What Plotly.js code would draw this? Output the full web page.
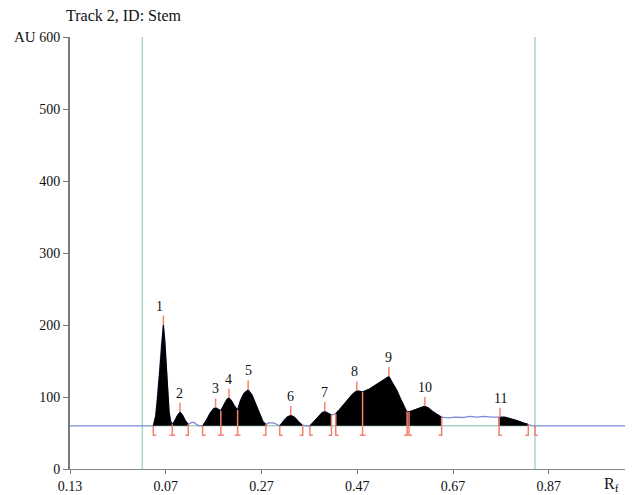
<!DOCTYPE html>
<html>
<head>
<meta charset="utf-8">
<script src="https://cdn.plot.ly/plotly-3.0.1.min.js"></script>
<style>html,body{margin:0;padding:0;background:#fff;}#chart{width:642px;height:495px;}</style>
</head>
<body>
<div id="chart"></div>
<script>
// Densitogram trace (Rf, AU)
const curveRf = [-0.13, 0.044, 0.049, 0.053, 0.057, 0.061, 0.065, 0.068, 0.071, 0.074, 0.077, 0.080, 0.0836,
  0.088, 0.094, 0.0997, 0.105, 0.111, 0.117, 0.122, 0.128, 0.134, 0.140, 0.147,
  0.155, 0.163, 0.170, 0.174, 0.180, 0.185, 0.192, 0.198, 0.202, 0.207, 0.213, 0.220, 0.226, 0.233, 0.242, 0.250, 0.258, 0.266, 0.273, 0.279,
  0.285, 0.295, 0.303, 0.308, 0.316, 0.323, 0.331, 0.339, 0.347, 0.356, 0.363, 0.371,
  0.380, 0.390, 0.396, 0.402, 0.409, 0.416, 0.421, 0.425,
  0.432, 0.440, 0.450, 0.460, 0.469, 0.481, 0.495, 0.510, 0.522, 0.530, 0.536, 0.543, 0.552, 0.560, 0.567, 0.573, 0.578,
  0.585, 0.595, 0.605, 0.611, 0.618, 0.627, 0.636, 0.646,
  0.660, 0.675, 0.690, 0.705, 0.720, 0.735, 0.750, 0.766,
  0.778, 0.790, 0.805, 0.817, 0.827, 0.835, 1.03];
const curveAU = [60, 60, 74, 100, 136, 174, 200, 178, 138, 102, 79, 67, 62,
  66, 74, 79, 75, 67, 62, 64, 65, 62, 60, 60,
  68, 78, 84, 85, 83, 81, 90, 97, 98.6, 95, 88, 82, 95, 105, 110, 103, 90, 76, 66, 62,
  64, 64, 62, 60, 67, 72, 74.5, 72, 66, 61, 60, 60,
  66, 74, 78, 80, 77, 75, 76, 77,
  82, 88, 97, 104, 108.7, 107, 111, 117, 122, 126, 128.6, 120, 110, 98, 88, 80, 79.5,
  81, 84, 86, 87, 85, 80, 76, 72,
  71, 72, 71.5, 73, 72, 73, 72, 72,
  72, 70, 67, 64, 62, 60, 60];

// Integrated peak regions
const regionStart = [0.044, 0.0836, 0.147, 0.308, 0.371, 0.425, 0.578, 0.766];
const regionEnd   = [0.0836, 0.117, 0.279, 0.356, 0.416, 0.578, 0.646, 0.827];

// Peaks
const peakLabels = ["1","2","3","4","5","6","7","8","9","10","11"];
const peakRf = [0.065, 0.0997, 0.174, 0.202, 0.242, 0.331, 0.402, 0.469, 0.536, 0.611, 0.768];
const peakAU = [200, 79, 85, 98.6, 110, 74.5, 80, 108.7, 128.6, 87, 72];

// Integration boundaries: L = "[", R = "]", B = shared
const boundRf   = [0.044, 0.0836, 0.117, 0.147, 0.185, 0.220, 0.279, 0.308, 0.356, 0.371, 0.416, 0.425, 0.481, 0.574, 0.578, 0.646, 0.766, 0.827, 0.841];
const boundType = ["L", "B", "R", "L", "B", "B", "R", "L", "R", "L", "R", "L", "B", "R", "L", "R", "L", "R", "L"];

const baselineAU = 60;
const frontLines = [0.021, 0.841];
const xTickVals = [-0.13, 0.07, 0.27, 0.47, 0.67, 0.87];
const xTickText = ["0.13", "0.07", "0.27", "0.47", "0.67", "0.87"];
const yTickVals = [0, 100, 200, 300, 400, 500, 600];

function interp(x) {
  for (let i = 0; i < curveRf.length - 1; i++) {
    if (x >= curveRf[i] && x <= curveRf[i + 1]) {
      const t = (x - curveRf[i]) / (curveRf[i + 1] - curveRf[i]);
      return curveAU[i] + t * (curveAU[i + 1] - curveAU[i]);
    }
  }
  return baselineAU;
}

const RED = "#f3826c";
const traces = [];

traces.push({x: [regionStart[0], regionEnd[regionEnd.length - 1]], y: [baselineAU, baselineAU], mode: "lines",
  line: {color: "#a6d2c8", width: 1.5}, hoverinfo: "skip"});
traces.push({x: curveRf, y: curveAU, mode: "lines", line: {color: "#7a8ad6", width: 1.3}, hoverinfo: "skip"});
regionStart.forEach((s, k) => {
  const e = regionEnd[k];
  const xs = [s, s], ys = [baselineAU, interp(s)];
  curveRf.forEach((r, i) => { if (r > s && r < e) { xs.push(r); ys.push(curveAU[i]); } });
  xs.push(e, e); ys.push(interp(e), baselineAU);
  traces.push({x: xs, y: ys, mode: "lines", fill: "toself", fillcolor: "#000", line: {color: "#000", width: 1}, hoverinfo: "skip"});
});
const bx = [], by = [];
const foot = 0.006, bottom = 47;
boundRf.forEach((r, i) => {
  const top = interp(r);
  const t = boundType[i];
  if (t === "L") { bx.push(r, r, r + foot, null); by.push(top, bottom, bottom, null); }
  else if (t === "R") { bx.push(r, r, r - foot, null); by.push(top, bottom, bottom, null); }
  else { bx.push(r, r, null, r - foot, r + foot, null); by.push(top, bottom, null, bottom, bottom, null); }
});
traces.push({x: bx, y: by, mode: "lines", line: {color: RED, width: 1.5}, hoverinfo: "skip", connectgaps: false});
const px = [], py = [];
peakRf.forEach((r, i) => { px.push(r, r, null); py.push(peakAU[i], peakAU[i] + 13, null); });
traces.push({x: px, y: py, mode: "lines", line: {color: RED, width: 1.5}, hoverinfo: "skip", connectgaps: false});

const font = {family: "Liberation Serif", size: 14, color: "#111"};
const titleFont = {family: "Liberation Serif", size: 16, color: "#111"};

const annotations = peakLabels.map((lab, i) => ({
  x: peakRf[i], y: peakAU[i] + 13, xref: "x", yref: "y", text: lab, showarrow: false,
  yanchor: "bottom", xshift: i === 0 ? -4 : (i === 7 ? -2 : 0), font: font
}));
annotations.push({x: -58/555, y: 1, xref: "paper", yref: "paper", text: "AU", showarrow: false, xanchor: "left", yanchor: "middle", font: {family: "Liberation Serif", size: 15, color: "#111"}});
annotations.push({x: 1.0, y: 0, xref: "x", yref: "y", text: "R<sub>f</sub>", showarrow: false, yshift: -15, font: titleFont});

const shapes = frontLines.map(r => ({type: "line", xref: "x", yref: "y", x0: r, x1: r, y0: 0, y1: 600,
  line: {color: "#a9d3d3", width: 1.5}, layer: "below"}));

const layout = {
  width: 642, height: 495,
  margin: {l: 70, r: 17, t: 37, b: 26},
  paper_bgcolor: "#fff", plot_bgcolor: "#fff",
  showlegend: false,
  font: font,
  title: {text: "Track 2, ID: Stem", xref: "container", yref: "container", x: 66/642, xanchor: "left", y: 1 - 15/495, yanchor: "middle", font: titleFont},
  xaxis: {range: [-0.13, 1.029], tickvals: xTickVals, ticktext: xTickText, ticks: "outside", ticklen: 4, tickcolor: "#777",
    showline: true, linecolor: "#888", linewidth: 1.2, showgrid: false, zeroline: false, tickfont: font},
  yaxis: {range: [0, 600], tickvals: yTickVals, ticks: "outside", ticklen: 5, tickcolor: "#777",
    showline: true, linecolor: "#7a7a7a", linewidth: 2, showgrid: false, zeroline: false, tickfont: font},
  annotations: annotations,
  shapes: shapes
};

Plotly.newPlot("chart", traces, layout, {displayModeBar: false, staticPlot: true});
</script>
</body>
</html>
